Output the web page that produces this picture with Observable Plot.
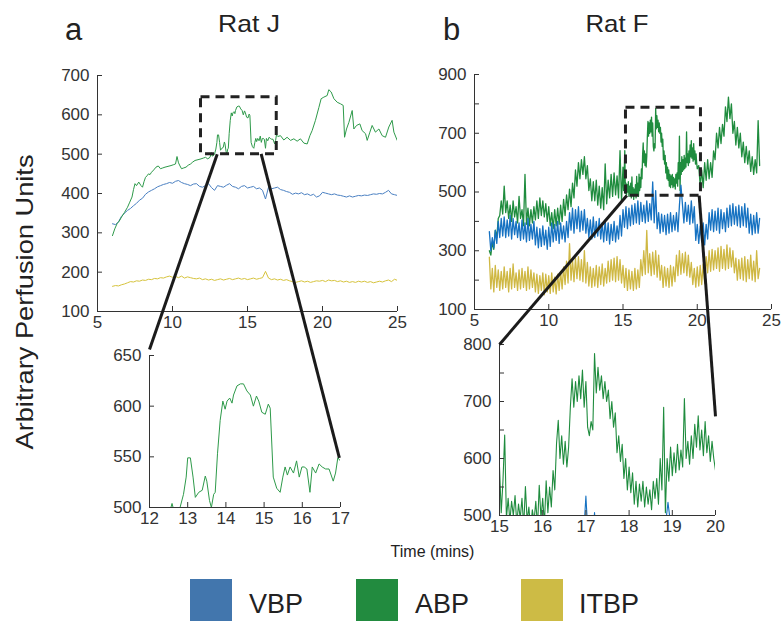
<!DOCTYPE html>
<html><head><meta charset="utf-8">
<script src="https://cdn.jsdelivr.net/npm/d3@7"></script>
<script src="https://cdn.jsdelivr.net/npm/@observablehq/plot@0.6"></script>
<style>
body{margin:0;background:#fff;}
#chart{position:relative;width:783px;height:622px;overflow:hidden;background:#fff;font-family:"Liberation Sans",Arial,sans-serif;color:#222;}
#chart svg{position:absolute;overflow:visible;}
</style></head><body><div id="chart"></div>
<script>
// ---------- DATA ----------
// Rat J – arterial bed perfusion (time in minutes, value)
const ratJ_abp = [[6.0,293],[6.15,310],[6.3,323],[6.45,330],[6.6,340],[6.8,352],[7.0,365],[7.15,378],[7.3,391],[7.4,410],[7.5,425],[7.6,420],[7.75,429],[7.9,420],[8.0,416],[8.1,430],[8.2,441],[8.3,445],[8.4,450],[8.5,448],[8.6,454],[8.75,460],[8.9,467],[9.05,470],[9.2,463],[9.35,465],[9.5,467],[9.7,469],[9.9,471],[10.05,473],[10.2,475],[10.3,494],[10.4,478],[10.5,470],[10.6,463],[10.75,465],[10.9,467],[11.05,472],[11.2,475],[11.35,480],[11.5,484],[11.7,486],[11.9,488],[12.05,490],[12.2,492],[12.35,488],[12.5,492],[12.59,504],[12.65,495],[12.75,497],[12.8,500],[12.89,513],[12.96,530],[13.0,549],[13.07,549],[13.14,530],[13.2,510],[13.29,515],[13.38,517],[13.46,531],[13.5,526],[13.57,507],[13.62,500],[13.68,513],[13.72,515],[13.78,553],[13.85,586],[13.92,605],[13.98,597],[14.03,605],[14.1,608],[14.16,603],[14.2,611],[14.29,620],[14.38,622],[14.46,622],[14.55,615],[14.64,611],[14.72,600],[14.8,610],[14.86,605],[14.94,594],[15.03,592],[15.11,602],[15.16,598],[15.24,530],[15.33,519],[15.42,515],[15.49,530],[15.55,540],[15.61,532],[15.68,540],[15.77,534],[15.85,546],[15.92,530],[15.99,540],[16.05,540],[16.12,538],[16.2,515],[16.26,540],[16.35,534],[16.44,543],[16.52,540],[16.61,538],[16.7,538],[16.81,526],[16.87,534],[16.93,549],[17.02,545],[17.2,547],[17.42,536],[17.64,543],[17.87,535],[18.09,539],[18.31,533],[18.53,539],[18.76,528],[18.98,526],[19.16,547],[19.31,560],[19.53,586],[19.76,619],[19.91,641],[20.09,645],[20.31,649],[20.42,664],[20.58,658],[20.76,641],[20.98,632],[21.2,628],[21.38,624],[21.47,543],[21.6,564],[21.76,581],[21.98,611],[22.09,564],[22.27,573],[22.49,577],[22.64,560],[22.87,552],[22.98,535],[23.16,556],[23.31,573],[23.53,556],[23.76,564],[23.98,547],[24.2,543],[24.42,569],[24.64,586],[24.76,556],[24.98,535]];
// Rat J – venous / intestinal beds, sampled every 0.2 min from 6.0
const ratJ_t0 = 6.0, ratJ_dt = 0.2;
const ratJ_vbp = [323,321,328,342,350,357,362,369,375,383,388,398,404,408,412,417,420,423,425,428,426,431,433,428,425,423,420,424,425,418,416,420,425,415,408,420,418,416,421,425,418,416,412,418,420,414,416,418,412,414,408,386,416,412,414,416,410,408,405,403,398,401,399,402,397,399,395,398,391,394,403,401,399,397,399,396,395,393,391,394,391,393,395,394,396,395,397,399,398,400,399,403,408,399,397,395];
const ratJ_itbp = [164,166,165,168,170,173,176,175,178,177,180,179,182,181,184,183,186,185,188,190,187,189,186,190,185,188,186,184,183,185,181,183,180,182,179,181,183,180,182,184,181,183,185,182,184,181,183,185,182,184,186,202,185,181,183,180,182,179,181,178,176,174,176,178,175,177,174,176,178,177,179,176,180,178,179,176,178,175,177,174,176,174,177,175,177,174,176,173,175,177,175,178,180,176,182,179];
// Rat F – sampled every 0.1 min from 6.0
const ratF_t0 = 6.0, ratF_dt = 0.1;
const ratF_vbp = [
365,300,345,310,369,325,400,345,410,350,
415,345,405,350,420,340,410,355,400,345,
395,335,405,340,395,330,410,335,390,340,
400,320,380,310,375,315,385,320,370,305,
380,315,395,330,390,335,400,325,395,340,
385,330,400,345,430,370,445,360,440,375,
450,365,435,370,440,360,410,345,405,340,
415,345,400,350,410,340,395,330,405,335,
395,323,390,335,400,330,385,340,420,350,
440,380,450,375,445,385,455,390,460,395,
470,390,465,400,455,395,470,400,460,405,
534,395,505,375,430,360,425,365,420,355,
425,360,430,365,420,370,430,365,455,523,
460,395,465,400,455,390,470,395,450,335,
390,325,385,330,395,320,390,340,430,370,
440,365,435,370,445,360,440,375,430,365,
445,380,455,385,460,390,450,385,455,380,
450,385,460,380,445,360,425,355,420,360,
430,360,410];
const ratF_itbp = [
278,170,240,160,250,175,235,165,230,170,
245,175,230,160,240,170,255,175,225,165,
235,170,240,175,230,165,245,170,235,175,
225,160,220,155,215,165,225,150,220,160,
215,155,225,160,210,153,220,165,230,170,
245,185,265,190,324,200,270,195,275,205,
280,200,270,195,300,190,260,180,245,175,
240,180,250,175,245,185,255,180,240,190,
265,195,270,200,275,195,280,200,270,190,
250,175,240,165,235,170,230,165,240,170,
235,175,270,215,300,220,369,225,290,215,
295,220,300,210,285,200,250,175,245,180,
240,175,250,180,245,195,285,215,300,220,
290,225,295,215,285,210,260,185,240,176,
245,180,250,185,255,190,280,225,300,230,
305,235,300,240,310,230,315,240,305,235,
320,240,310,245,300,225,275,200,270,205,
275,200,280,195,270,205,285,200,265,195,
300,205,240];
// Rat F ABP: 6.0–14.9 every 0.1, 15.0–20.0 every 0.04, 20.1–24.2 every 0.1
const ratF_abp_early = [
300,285,330,305,370,345,410,420,470,425,
520,430,470,410,455,400,470,415,450,395,
485,410,440,385,560,390,445,385,440,395,
450,405,470,410,480,420,470,415,460,400,
450,385,430,375,440,385,445,390,455,400,
475,420,490,440,510,450,530,480,575,520,
600,545,610,560,620,545,590,505,545,470,
535,470,540,455,520,445,515,440,596,460,
540,480,560,485,565,490,555,480,641,470];
const ratF_abp_zoom_t0 = 15.0, ratF_abp_zoom_dt = 0.04;
const ratF_abp_zoom = [
585,505,560,641,495,530,490,525,500,535,485,520,495,530,480,551,490,515,475,510,490,525,480,553,495,
530,485,561,505,550,515,579,545,626,667,600,640,590,630,585,620,690,740,690,735,700,745,705,755,690,
735,655,640,665,650,784,715,760,720,745,705,735,700,720,670,700,655,680,610,640,595,625,565,600,545,
585,540,575,520,560,515,555,525,560,515,550,520,545,510,560,530,565,520,600,545,690,505,600,560,620,
570,610,575,625,580,615,585,705,600,630,590,640,600,660,620,675,615,650,605,665,610,640,595,630,600,
579];
const ratF_abp_late_t0 = 20.1;
const ratF_abp_late = [
590,520,575,515,600,540,610,545,600,550,
640,610,700,650,720,665,730,690,790,740,
823,750,800,700,740,660,720,650,700,620,
670,600,655,595,640,570,620,560,610,565,
743,590];

// ticks, zoom windows, connector anchors
const ratJ_xTicks = [5,10,15,20,25];
const ratJ_yTicks = [100,200,300,400,500,600,700];
const ratF_xTicks = [5,10,15,20,25];
const ratF_yTicks = [100,200,300,400,500,600,700,800,900];
const ratF_yLabels = [100,300,500,700,900];
const zoomJ_xTicks = [12,13,14,15,16,17];
const zoomJ_yTicks = [500,550,600,650];
const zoomF_xTicks = [15,16,17,18,19,20];
const zoomF_yTicks = [500,550,600,650,700,750,800];
const zoomF_yLabels = [500,600,700,800];
const zoomJ_box = [11.9, 16.95, 500, 645];
const zoomF_box = [15.2, 20.25, 487, 787];
// connectors: [x,y in main panel] -> [x,y in inset]
const linksJ = [[[12.98,500],[12.0,656]],[[15.91,501],[16.97,549]]];
const linksF = [[[15.26,488],[15.0,800]],[[20.13,488],[20.0,674]]];

const seriesNames = ["VBP","ABP","ITBP"];
const legendColors = ["#4276ad","#228b3f","#cdbb45"];
const colJ = {VBP:"#4a80c2", ABP:"#2e9a4a", ITBP:"#d6c33c"};
const colF = {VBP:"#1672c2", ABP:"#1f8c3e", ITBP:"#cfb843"};

// ---------- BUILD ----------
const reg = (t0, dt, vals) => vals.map((v,i) => ({t: +(t0 + i*dt).toFixed(3), v}));
const J = {
  ABP: ratJ_abp.map(([t,v]) => ({t,v})),
  VBP: reg(ratJ_t0, ratJ_dt, ratJ_vbp),
  ITBP: reg(ratJ_t0, ratJ_dt, ratJ_itbp)
};
const F = {
  ABP: [...reg(ratF_t0, ratF_dt, ratF_abp_early), ...reg(ratF_abp_zoom_t0, ratF_abp_zoom_dt, ratF_abp_zoom), ...reg(ratF_abp_late_t0, ratF_dt, ratF_abp_late)],
  VBP: reg(ratF_t0, ratF_dt, ratF_vbp),
  ITBP: reg(ratF_t0, ratF_dt, ratF_itbp)
};

const chart = document.getElementById("chart");
const FONT = "'Liberation Sans', Arial, sans-serif";

function panel(cfg) {
  const {pos, xDomain, yDomain, xTicks, yTicks, yLabels, series, box} = cfg;
  const marks = [];
  for (const s of series) marks.push(Plot.line(s.data, {x:"t", y:"v", stroke:s.color, strokeWidth:s.w, clip:true}));
  marks.push(Plot.ruleX([xDomain[0]], {stroke:"#333", strokeWidth:1}));
  marks.push(Plot.ruleY([yDomain[0]], {stroke:"#333", strokeWidth:1}));
  marks.push(Plot.axisX({ticks:xTicks, tickSize:-5, tickPadding:9, label:null, tickFormat: d => String(d)}));
  marks.push(Plot.axisY({ticks:yTicks, tickSize:-5, tickPadding:13, label:null,
    tickFormat: d => (yLabels ? yLabels.includes(d) : true) ? String(d) : ""}));
  if (box) marks.push(Plot.rect([box], {x1:d=>d[0], x2:d=>d[1], y1:d=>d[2], y2:d=>d[3], fill:"none", stroke:"#222", strokeWidth:3, strokeDasharray:"9,6"}));
  const p = Plot.plot({
    width: pos.w, height: pos.h,
    marginLeft: pos.ml, marginRight: pos.mr, marginTop: pos.mt, marginBottom: pos.mb,
    x: {domain: xDomain}, y: {domain: yDomain},
    style: {background:"transparent", fontSize:"17px", fontFamily: FONT, color:"#333", overflow:"visible"},
    marks
  });
  p.style.left = pos.left + "px"; p.style.top = pos.top + "px";
  chart.appendChild(p);
  p.at = (x, y) => [pos.left + p.scale("x").apply(x), pos.top + p.scale("y").apply(y)];
  return p;
}

const pA = panel({pos:{left:47, top:60, w:370, h:270, ml:50, mr:20, mt:15, mb:19},
  xDomain:[5,25], yDomain:[100,700], xTicks:ratJ_xTicks, yTicks:ratJ_yTicks, box:zoomJ_box,
  series:[{data:J.ITBP,color:colJ.ITBP,w:1},{data:J.VBP,color:colJ.VBP,w:1},{data:J.ABP,color:colJ.ABP,w:1}]});
const pAz = panel({pos:{left:100, top:340, w:260, h:190, ml:49, mr:20, mt:15, mb:23},
  xDomain:[12,17], yDomain:[500,650], xTicks:zoomJ_xTicks, yTicks:zoomJ_yTicks,
  series:[{data:J.ABP,color:colJ.ABP,w:1}]});
const pB = panel({pos:{left:420, top:60, w:370, h:270, ml:54, mr:19, mt:14, mb:21},
  xDomain:[5,25], yDomain:[100,900], xTicks:ratF_xTicks, yTicks:ratF_yTicks, yLabels:ratF_yLabels, box:zoomF_box,
  series:[{data:F.ABP,color:colF.ABP,w:1.3},{data:F.ITBP,color:colF.ITBP,w:1.3},{data:F.VBP,color:colF.VBP,w:1.3}]});
const pBz = panel({pos:{left:450, top:330, w:285, h:210, ml:49, mr:20, mt:14, mb:25},
  xDomain:[15,20], yDomain:[500,800], xTicks:zoomF_xTicks, yTicks:zoomF_yTicks, yLabels:zoomF_yLabels,
  series:[{data:F.VBP,color:colF.VBP,w:1.1},{data:F.ABP,color:colF.ABP,w:1.1}]});

// connectors, through each panel's own scales
const links = [
  ...linksJ.map(([a,b]) => [pA.at(...a), pAz.at(...b)]),
  ...linksF.map(([a,b]) => [pB.at(...a), pBz.at(...b)])
].map(([a,b]) => ({x1:a[0], y1:a[1], x2:b[0], y2:b[1]}));
const overlay = Plot.plot({
  width:783, height:622, margin:0,
  x:{type:"identity", axis:null}, y:{type:"identity", axis:null},
  style:{background:"transparent", overflow:"visible"},
  marks:[Plot.link(links, {x1:"x1", y1:"y1", x2:"x2", y2:"y2", stroke:"#1b1b1b", strokeWidth:3})]
});
overlay.style.left = "0px"; overlay.style.top = "0px";
chart.appendChild(overlay);

// text and legend
const svg = d3.create("svg").attr("width",783).attr("height",622)
  .style("left","0px").style("top","0px").style("font-family", FONT).attr("fill","#222");
const txt = (x, y, s, size, anchor, len, rot) => {
  const t = svg.append("text").attr("x",x).attr("y",y).attr("font-size",size)
    .attr("text-anchor",anchor).text(s);
  if (len) t.attr("textLength",len).attr("lengthAdjust","spacingAndGlyphs");
  if (rot) t.attr("transform",`rotate(${rot},${x},${y})`);
};
txt(65, 40, "a", 31, "start");
txt(443, 39.5, "b", 31, "start");
txt(249, 32, "Rat J", 24, "middle", 62);
txt(617, 32, "Rat F", 24, "middle", 63);
txt(33, 302, "Arbitrary Perfusion Units", 24, "middle", 295, -90);
txt(432.5, 556.5, "Time (mins)", 16, "middle");
const legX = [190, 356, 521], labX = [249, 415, 579];
seriesNames.forEach((n, i) => {
  svg.append("rect").attr("x",legX[i]).attr("y",579).attr("width",42).attr("height",42).attr("fill",legendColors[i]);
  txt(labX[i], 613, n, 27, "start");
});
chart.appendChild(svg.node());
</script></body></html>
